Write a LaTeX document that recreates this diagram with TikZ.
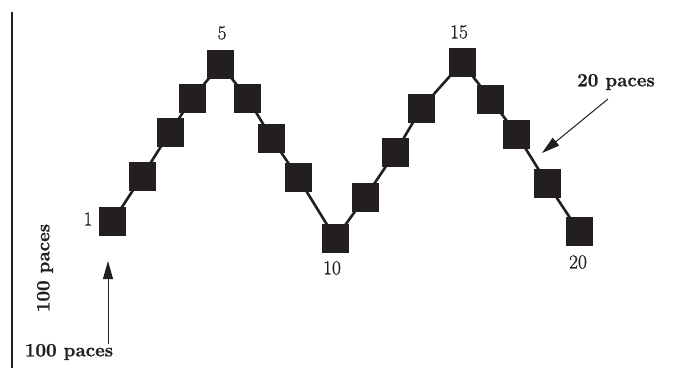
\documentclass[tikz,border=0pt]{standalone}
\usepackage{fontspec}
\setmainfont{Latin Modern Roman}
\newfontfamily\numfont{Latin Modern Roman}[FakeBold=0.9]
\newfontfamily\pacefont{Latin Modern Roman}[BoldFeatures={FakeBold=1.1}]
\usetikzlibrary{arrows.meta}
\definecolor{ink}{RGB}{35,31,32}
\begin{document}
\begin{tikzpicture}[x=1pt,y=-1pt,
  sq/.style={fill=ink, draw=none, minimum width=27pt, minimum height=29pt, inner sep=0pt},
  walk/.style={draw=ink, line width=2.6pt, shorten <=-1.5pt, shorten >=-1.5pt},
  lbl/.style={font=\numfont\fontsize{19.5}{22}\selectfont, inner sep=0pt, text=ink},
  blbl/.style={font=\pacefont\fontsize{18.8}{22}\selectfont\bfseries, inner sep=0pt, text=ink},
  arr/.style={draw=ink, line width=1pt, -{Triangle[length=18pt,width=10pt]}}]
\useasboundingbox (0,0) rectangle (690,368);
\fill[white] (0,0) rectangle (690,368);
% frame line on the left
\draw[draw=ink, line width=2.6pt] (12,12) -- (12,368);
% squares
\node[sq] (s1)  at (112.5,221.5) {};
\node[sq] (s2)  at (142,176.5) {};
\node[sq] (s3)  at (170,132) {};
\node[sq] (s4)  at (192.5,98) {};
\node[sq] (s5)  at (220.5,64.5) {};
\node[sq] (s6)  at (247.5,98) {};
\node[sq] (s7)  at (271.5,138) {};
\node[sq] (s8)  at (298,177.5) {};
\node[sq] (s9)  at (335.5,238.5) {};
\node[sq] (s10) at (365,197.5) {};
\node[sq] (s11) at (395.5,152) {};
\node[sq] (s12) at (421.5,108) {};
\node[sq] (s13) at (462,62.5) {};
\node[sq] (s14) at (490.5,99) {};
\node[sq] (s15) at (516.5,134) {};
\node[sq] (s16) at (547,183) {};
\node[sq] (s17) at (579,231.5) {};
% connectors
\foreach \a/\b in {s1/s2,s2/s3,s3/s4,s4/s5,s5/s6,s6/s7,s7/s8,s8/s9,s9/s10,s10/s11,s11/s12,s12/s13,s13/s14,s14/s15,s15/s16,s16/s17}
  \draw[walk] (\a) -- (\b);
% number labels
\node[lbl] (n1)  at (88,219) {1};
\node[lbl] (n5)  at (222,33) {5};
\node[lbl] (n10) at (332,268) {10};
\node[lbl] (n15) at (459,32) {15};
\node[lbl] (n20) at (578,262) {20};
% pace labels
\node[blbl, rotate=90] (pv) at (45,268) {100 paces};
\node[blbl] (ph) at (69,352) {100 paces};
\node[blbl] (p20) at (616,82) {20 paces};
% arrows
\coordinate (a1tail) at (108,344);
\coordinate (a1tip) at (108,261);
\draw[arr] (a1tail) -- (a1tip);
\coordinate (a2tail) at (608,99);
\coordinate (a2tip) at (542,153);
\draw[arr] (a2tail) -- (a2tip);
\end{tikzpicture}
\end{document}
